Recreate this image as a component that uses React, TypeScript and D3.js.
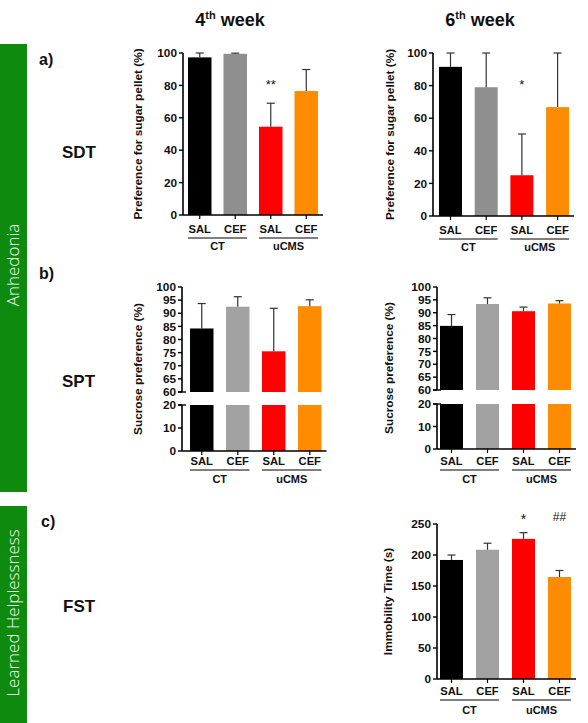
import React from 'react';
import * as d3 from 'd3';

const groups = ['SAL', 'CEF', 'SAL', 'CEF'];
const conditions = ['CT', 'uCMS'];
const barColors = ['#000000', '#959595', '#ff0000', '#ff8c00'];

const sdtWeek4Mean = [97.3, 99.5, 54.5, 76.5];
const sdtWeek4Sem = [2.7, 0.4, 14.5, 13.3];
const sdtWeek6Mean = [91.5, 79, 25, 66.8];
const sdtWeek6Sem = [8.5, 21, 25.3, 33.2];
const sptWeek4Mean = [84.2, 92.5, 75.5, 92.7];
const sptWeek4Sem = [9.5, 3.8, 16.4, 2.4];
const sptWeek6Mean = [84.9, 93.4, 90.6, 93.6];
const sptWeek6Sem = [4.4, 2.4, 1.6, 1.1];
const fstWeek6Mean = [192, 208.5, 226, 164.5];
const fstWeek6Sem = [8, 10.5, 10, 10.5];

const sdtTicks = [0, 20, 40, 60, 80, 100];
const sptUpperTicks = [60, 65, 70, 75, 80, 85, 90, 95, 100];
const sptLowerTicks = [0, 10, 20];
const fstTicks = [0, 50, 100, 150, 200, 250];

const FONT = '"Liberation Sans", Arial, Helvetica, sans-serif';
const GREEN = '#0e8a0e';

type Segment = { domain: [number, number]; range: [number, number]; ticks: number[] };
type Star = { index: number; text: string; y: number; size: number };

type PanelProps = {
  axisX: number;
  barLeft: number;
  step: number;
  barW: number;
  segments: Segment[];
  means: number[];
  sems: number[];
  yLabel: string;
  labelX: number;
  stars?: Star[];
  lblOff?: number;
  lineOff?: number;
  grpOff?: number;
  grey?: string;
};

function Panel(p: PanelProps) {
  const ids = groups.map((g, i) => `${g}${i}`);
  const colors = barColors.map((c, i) => (i === 1 && p.grey ? p.grey : c));
  const x = d3
    .scaleBand<string>()
    .domain(ids)
    .range([p.barLeft, p.barLeft + 3 * p.step + p.barW])
    .paddingInner(1 - p.barW / p.step)
    .paddingOuter(0);
  const bw = x.bandwidth();
  const scales = p.segments.map((s) => d3.scaleLinear().domain(s.domain).range(s.range));
  const last = p.segments[p.segments.length - 1];
  const axisY = last.range[0];
  const yTop = p.segments[0].range[1];
  const xEnd = (x(ids[3]) as number) + bw + 5;
  const broken = p.segments.length > 1;
  const lblOff = p.lblOff ?? 16;
  const lineOff = p.lineOff ?? 21;
  const grpOff = p.grpOff ?? 34;

  return (
    <g>
      {p.segments.map((s, si) => {
        const y = scales[si];
        return ids.map((id, i) => {
          const v = p.means[i];
          if (v <= s.domain[0]) return null;
          const top = Math.min(v, s.domain[1]);
          return (
            <rect
              key={`b${si}-${i}`}
              x={x(id)}
              y={y(top)}
              width={bw}
              height={y(s.domain[0]) - y(top)}
              fill={colors[i]}
            />
          );
        });
      })}
      {ids.map((id, i) => {
        const v = p.means[i];
        const t = v + p.sems[i];
        const si = p.segments.findIndex((s) => t >= s.domain[0] && t <= s.domain[1] + 1e-6);
        const y = scales[si >= 0 ? si : 0];
        const cx = (x(id) as number) + bw / 2;
        return (
          <g key={`e${i}`} stroke="#333" strokeWidth={1.2}>
            <line x1={cx} x2={cx} y1={y(v)} y2={y(t)} />
            <line x1={cx - 4} x2={cx + 4} y1={y(t)} y2={y(t)} />
          </g>
        );
      })}
      {p.segments.map((s, si) => {
        const y = scales[si];
        return (
          <g key={`a${si}`}>
            <line x1={p.axisX} x2={p.axisX} y1={s.range[0]} y2={s.range[1]} stroke="#000" strokeWidth={1.6} />
            {s.ticks.map((t) => (
              <g key={t}>
                <line x1={p.axisX - 4} x2={p.axisX} y1={y(t)} y2={y(t)} stroke="#000" strokeWidth={1.4} />
                <text
                  x={p.axisX - 6}
                  y={y(t)}
                  dy="0.36em"
                  textAnchor="end"
                  fontFamily={FONT}
                  fontWeight="bold"
                  fontSize={11.8}
                  fill="#111"
                >
                  {t}
                </text>
              </g>
            ))}
            {broken && si === 0 && (
              <line x1={p.axisX - 4} x2={p.axisX + 4} y1={s.range[0]} y2={s.range[0]} stroke="#000" strokeWidth={1.4} />
            )}
            {broken && si === p.segments.length - 1 && (
              <line x1={p.axisX - 4} x2={p.axisX + 4} y1={s.range[1]} y2={s.range[1]} stroke="#000" strokeWidth={1.4} />
            )}
          </g>
        );
      })}
      <line x1={p.axisX} x2={xEnd} y1={axisY} y2={axisY} stroke="#000" strokeWidth={1.6} />
      {ids.map((id, i) => {
        const cx = (x(id) as number) + bw / 2;
        return (
          <g key={`x${i}`}>
            <line x1={cx} x2={cx} y1={axisY} y2={axisY + 4} stroke="#000" strokeWidth={1.2} />
            <text x={cx} y={axisY + lblOff} textAnchor="middle" fontFamily={FONT} fontWeight="bold" fontSize={11.2} fill="#111">
              {groups[i]}
            </text>
          </g>
        );
      })}
      {conditions.map((c, ci) => {
        const x0 = x(ids[ci * 2]) as number;
        const x1 = (x(ids[ci * 2 + 1]) as number) + bw;
        return (
          <g key={`c${ci}`}>
            <line x1={x0} x2={x1} y1={axisY + lineOff} y2={axisY + lineOff} stroke="#000" strokeWidth={1} />
            <text x={(x0 + x1) / 2} y={axisY + grpOff} textAnchor="middle" fontFamily={FONT} fontWeight="bold" fontSize={11} fill="#111">
              {c}
            </text>
          </g>
        );
      })}
      <text
        transform={`translate(${p.labelX},${(yTop + axisY) / 2}) rotate(-90)`}
        dy="0.35em"
        textAnchor="middle"
        fontFamily={FONT}
        fontWeight="bold"
        fontSize={11.8}
        fill="#111"
      >
        {p.yLabel}
      </text>
      {(p.stars || []).map((s, k) => (
        <text
          key={`s${k}`}
          x={(x(ids[s.index]) as number) + bw / 2}
          y={s.y}
          textAnchor="middle"
          fontFamily={FONT}
          fontSize={s.size}
          fill="#111"
        >
          {s.text}
        </text>
      ))}
    </g>
  );
}

function Title({ x, num }: { x: number; num: string }) {
  return (
    <text x={x} y={26} textAnchor="middle" fontFamily={FONT} fontWeight="bold" fontSize={18} fill="#111">
      <tspan>{num}</tspan>
      <tspan fontSize={11} dy={-7}>th</tspan>
      <tspan dy={7}> week</tspan>
    </text>
  );
}

function Label({ x, y, text, size }: { x: number; y: number; text: string; size: number }) {
  return (
    <text x={x} y={y} fontFamily={FONT} fontWeight="bold" fontSize={size} fill="#111">
      {text}
    </text>
  );
}

export default function App() {
  return (
    <svg width={588} height={723} style={{ position: 'absolute', left: 0, top: 0, background: '#fff' }}>
      <rect x={0} y={0} width={588} height={723} fill="#fff" />
      <rect x={0} y={44} width={27} height={448} fill={GREEN} />
      <rect x={0} y={506} width={27} height={217} fill={GREEN} />
      <text
        transform="translate(13.5,265) rotate(-90)"
        dy="0.35em"
        textAnchor="middle"
        fontFamily='"Open Sans", "Noto Sans", sans-serif'
        fontWeight={300}
        fontSize={17}
        fill="#fff"
      >
        Anhedonia
      </text>
      <text
        transform="translate(13.5,613) rotate(-90)"
        dy="0.35em"
        textAnchor="middle"
        fontFamily='"Open Sans", "Noto Sans", sans-serif'
        fontWeight={300}
        fontSize={17}
        fill="#fff"
      >
        Learned Helplessness
      </text>

      <Title x={230} num="4" />
      <Title x={480} num="6" />

      <Label x={39} y={65} text="a)" size={16} />
      <Label x={62} y={158} text="SDT" size={17} />
      <Label x={39} y={279} text="b)" size={16} />
      <Label x={62} y={387} text="SPT" size={17} />
      <Label x={41} y={527} text="c)" size={16} />
      <Label x={63} y={612} text="FST" size={17} />

      <Panel
        axisX={183}
        barLeft={188}
        step={35.5}
        barW={23.5}
        segments={[{ domain: [0, 100], range: [215, 53], ticks: sdtTicks }]}
        means={sdtWeek4Mean}
        sems={sdtWeek4Sem}
        yLabel="Preference for sugar pellet (%)"
        labelX={138}
        stars={[{ index: 2, text: '**', y: 89, size: 13 }]}
        lblOff={18}
        lineOff={23}
        grpOff={35}
        grey="#8f8f8f"
      />
      <Panel
        axisX={433}
        barLeft={439}
        step={35.7}
        barW={23}
        segments={[{ domain: [0, 100], range: [216, 53], ticks: sdtTicks }]}
        means={sdtWeek6Mean}
        sems={sdtWeek6Sem}
        yLabel="Preference for sugar pellet (%)"
        labelX={390}
        stars={[{ index: 2, text: '*', y: 89, size: 13 }]}
        lblOff={18}
        lineOff={23}
        grpOff={35}
        grey="#8f8f8f"
      />
      <Panel
        axisX={182}
        barLeft={190}
        step={36}
        barW={23.5}
        segments={[
          { domain: [60, 100], range: [392, 287], ticks: sptUpperTicks },
          { domain: [0, 20], range: [451, 405], ticks: sptLowerTicks },
        ]}
        means={sptWeek4Mean}
        sems={sptWeek4Sem}
        yLabel="Sucrose preference (%)"
        labelX={138}
        lblOff={14}
        lineOff={19}
        grpOff={32}
        grey="#a2a2a2"
      />
      <Panel
        axisX={437}
        barLeft={440}
        step={36}
        barW={23}
        segments={[
          { domain: [60, 100], range: [390, 287], ticks: sptUpperTicks },
          { domain: [0, 20], range: [449, 404], ticks: sptLowerTicks },
        ]}
        means={sptWeek6Mean}
        sems={sptWeek6Sem}
        yLabel="Sucrose preference (%)"
        labelX={389}
        lblOff={16}
        lineOff={21}
        grpOff={34}
        grey="#a2a2a2"
      />
      <Panel
        axisX={437}
        barLeft={440}
        step={36}
        barW={23}
        segments={[{ domain: [0, 250], range: [679, 524], ticks: fstTicks }]}
        means={fstWeek6Mean}
        sems={fstWeek6Sem}
        yLabel="Immobility Time (s)"
        labelX={388}
        stars={[
          { index: 2, text: '*', y: 524, size: 14 },
          { index: 3, text: '##', y: 521, size: 12 },
        ]}
        lblOff={16}
        lineOff={21}
        grpOff={35}
        grey="#a2a2a2"
      />
    </svg>
  );
}
